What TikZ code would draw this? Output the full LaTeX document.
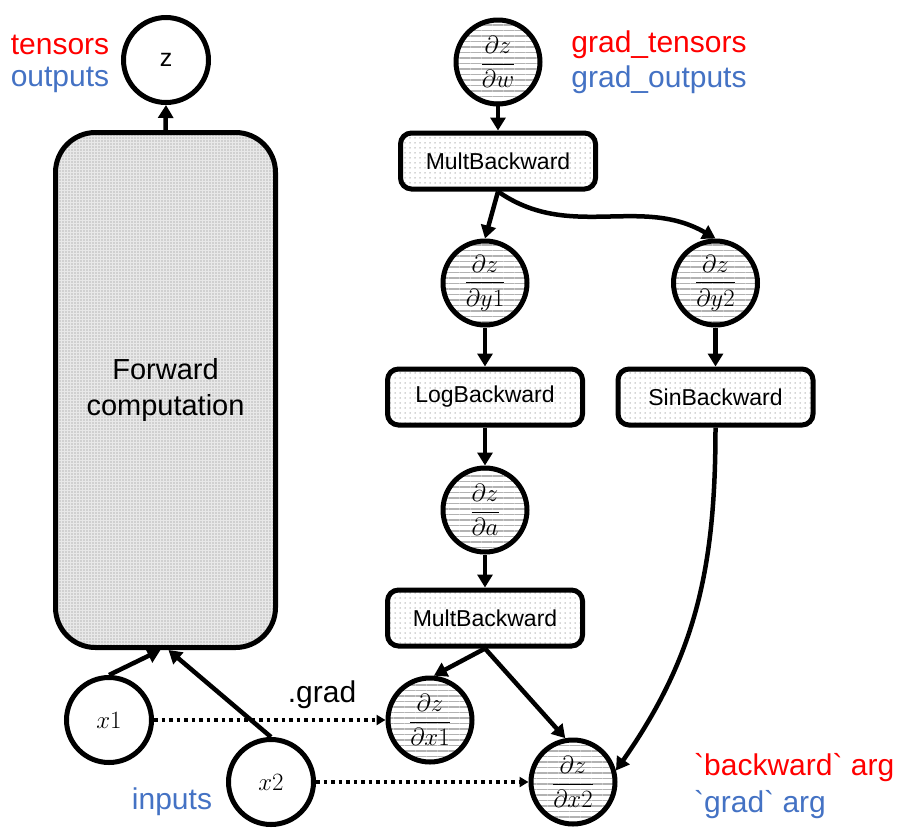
\documentclass[tikz,border=0pt]{standalone}
\usepackage{amsmath}
\usepackage{fontspec}
\setmainfont{Liberation Sans}
% plain family without the TeX quote mapping, for literal grave accents
\newfontfamily\plainsans{Liberation Sans}
\usetikzlibrary{arrows.meta,patterns.meta}
\definecolor{lblred}{RGB}{255,0,0}
\definecolor{lblblue}{RGB}{68,114,196}
\newcommand{\btick}{{\plainsans\symbol{96}}}

\tikzset{
  conn/.style={line width=4.5pt, -{Triangle[length=13pt,width=15pt]}},
  gradlink/.style={line width=3.5pt, dash pattern=on 3.5pt off 4pt, -{Triangle[length=9pt,width=10pt]}},
  tensornode/.style={circle, draw, line width=5pt, minimum size=85pt, inner sep=0pt, fill=white},
  gradnode/.style={circle, draw, line width=5pt, minimum size=84pt, inner sep=0pt,
    preaction={fill=white}, pattern={Lines[angle=0,distance=5.5pt,line width=1.3pt]}, pattern color=gray!60,
    font=\fontsize{26}{30}\selectfont},
  opbox/.style={draw, line width=5pt, rounded corners=11pt, minimum width=195pt, minimum height=56pt,
    preaction={fill=white}, pattern={Dots[distance=5pt,radius=0.75pt]}, pattern color=gray!65,
    font=\fontsize{23}{27}\selectfont},
  fwdbox/.style={draw, line width=5pt, rounded corners=40pt, minimum width=220pt, minimum height=515pt,
    preaction={fill=gray!18}, pattern={Dots[distance=3pt,radius=0.8pt]}, pattern color=gray!55,
    align=center, font=\fontsize{29}{36}\selectfont},
  lbl/.style={font=\fontsize{30}{34}\selectfont, inner sep=0pt},
}

\begin{document}
\begin{tikzpicture}[x=1pt,y=1pt]
  \useasboundingbox (0,0) rectangle (897,-828);

  % forward pass
  \node[fwdbox] (fwd) at (165.5,-390) {Forward\\computation};
  \node[tensornode, font=\fontsize{25}{29}\selectfont] (z) at (166,-60) {z};
  \node[tensornode, font=\fontsize{28}{32}\selectfont] (x1) at (109,-720) {$x1$};
  \node[tensornode, font=\fontsize{28}{32}\selectfont] (x2) at (271,-782) {$x2$};

  % backward graph
  \node[gradnode] (dw)  at (498,-62)  {$\dfrac{\partial z}{\partial w}$};
  \node[opbox]    (m1)  at (498,-161) {MultBackward};
  \node[gradnode] (dy1) at (485,-283) {$\dfrac{\partial z}{\partial y1}$};
  \node[gradnode] (dy2) at (715.5,-283) {$\dfrac{\partial z}{\partial y2}$};
  \node[opbox]    (lb)  at (485,-397) {LogBackward};
  \node[opbox]    (sb)  at (715.5,-397) {SinBackward};
  \node[gradnode] (da)  at (485,-510) {$\dfrac{\partial z}{\partial a}$};
  \node[opbox]    (m2)  at (485,-618) {MultBackward};
  \node[gradnode] (dx1) at (430,-720) {$\dfrac{\partial z}{\partial x1}$};
  \node[gradnode] (dx2) at (573,-782) {$\dfrac{\partial z}{\partial x2}$};

  % connectors
  \draw[conn] (fwd.north) -- (z.south);
  \draw[conn] (x1.north) -- ([xshift=-5pt]fwd.south);
  \draw[conn] (x2.north) -- ([xshift=3pt]fwd.south);
  \draw[conn] (dw) -- (m1);
  \draw[conn] (m1.south) -- (dy1.north);
  \draw[conn] (m1.south) to[out=-35,in=150] (dy2.north);
  \draw[conn] (dy1) -- (lb);
  \draw[conn] (dy2) -- (sb);
  \draw[conn] (lb) -- (da);
  \draw[conn] (da) -- (m2);
  \draw[conn] (m2.south) -- (dx1.85);
  \draw[conn] (m2.south) -- (dx2.100);
  \draw[conn] (sb.south) to[out=-90,in=55] (dx2.15);
  \draw[gradlink] (x1.east) -- (dx1.west);
  \draw[gradlink] (x2.east) -- (dx2.west);

  % labels
  \node[lbl, text=lblred]  (tl1) at (60,-45) {tensors};
  \node[lbl, text=lblblue] (tl2) at (60,-80) {outputs};
  \node[lbl, text=lblred]  (gl1) at (659,-45) {grad\_tensors};
  \node[lbl, text=lblblue] (gl2) at (659,-80) {grad\_outputs};
  \node[lbl] (gr) at (322,-695) {.grad};
  \node[lbl, text=lblblue] (inp) at (172,-802) {inputs};
  \node[lbl, text=lblred, anchor=west]  (bl1) at (694,-768) {\btick backward\btick{} arg};
  \node[lbl, text=lblblue, anchor=west] (bl2) at (694,-805) {\btick grad\btick{} arg};
\end{tikzpicture}
\end{document}
